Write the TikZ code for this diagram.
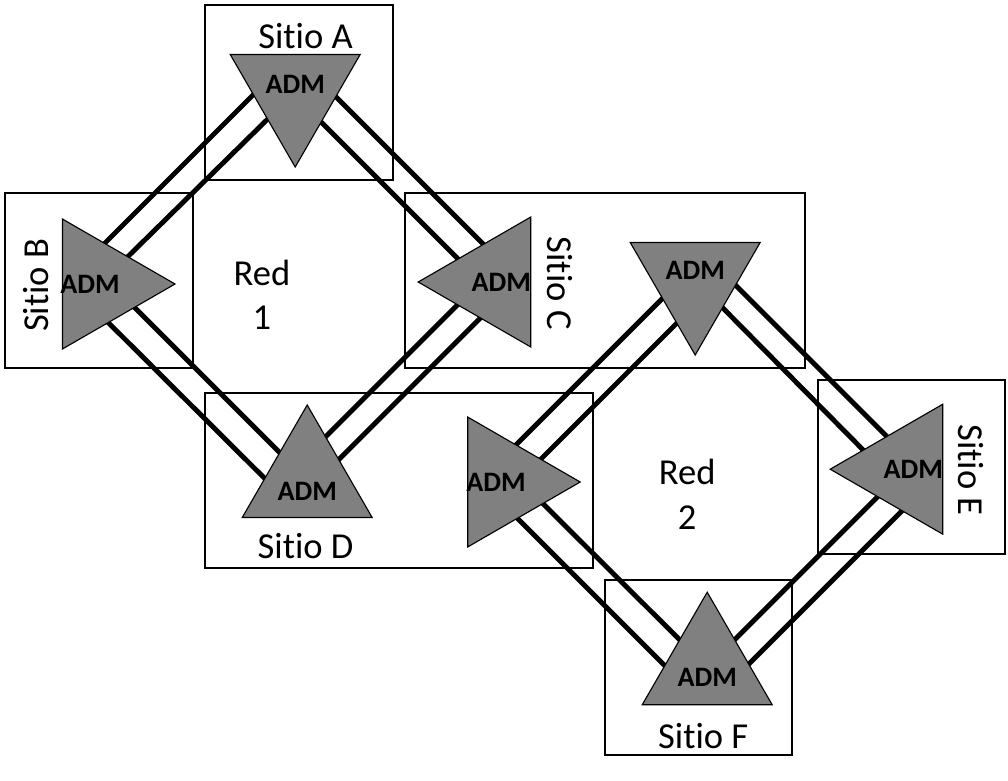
\documentclass[tikz,border=0pt]{standalone}
\usepackage{fontspec}
\setmainfont{Carlito}[Ligatures=NoCommon]
\usepackage{tikz}
\usetikzlibrary{shapes.geometric}
\usetikzlibrary{backgrounds}
\usepackage{color}
\definecolor{admgray}{RGB}{128, 128, 128}

\tikzset{
    admtri/.style={regular polygon, regular polygon sides=3, minimum size=3.75cm,
                   inner sep=0pt, draw=black, line width=0.8pt, fill=admgray},
    admtext/.style={font=\fontsize{20}{24}\selectfont\bfseries, inner sep=0pt},
    sitetext/.style={font=\fontsize{26}{32}\selectfont, inner sep=0pt},
    sitebox/.style={line width=1.2pt},
    admlink/.style={line width=3.5pt},
}

\begin{document}
\begin{tikzpicture}
            % Frame to fix the page size
            \useasboundingbox (0.00, 0.00) rectangle (25.20, -19.50);
            % ADM nodes, Red 1
            \node[admtri, shape border rotate=180] (admA)  at ( 7.38,  -2.30) {};
            \node[admtri, shape border rotate=-90] (admB)  at ( 2.50,  -7.10) {};
            \node[admtri, shape border rotate=90]  (admC1) at (12.33,  -7.05) {};
            \node[admtri]                          (admD1) at ( 7.68, -12.00) {};
            % ADM nodes, Red 2
            \node[admtri, shape border rotate=180] (admC2) at (17.38,  -7.00) {};
            \node[admtri, shape border rotate=-90] (admD2) at (12.63, -12.05) {};
            \node[admtri, shape border rotate=90]  (admE)  at (22.63, -11.73) {};
            \node[admtri]                          (admF)  at (17.68, -16.68) {};
            % ADM labels
            \node[admtext] (txtA)  at ([yshift= 0.20cm]admA.center)  {ADM};
            \node[admtext] (txtB)  at ([xshift=-0.25cm]admB.center)  {ADM};
            \node[admtext] (txtC1) at ([xshift= 0.20cm]admC1.center) {ADM};
            \node[admtext] (txtD1) at ([yshift=-0.28cm]admD1.center) {ADM};
            \node[admtext] (txtC2) at ([yshift= 0.23cm]admC2.center) {ADM};
            \node[admtext] (txtD2) at ([xshift=-0.23cm]admD2.center) {ADM};
            \node[admtext] (txtE)  at ([xshift= 0.20cm]admE.center)  {ADM};
            \node[admtext] (txtF)  at ([yshift=-0.25cm]admF.center)  {ADM};
            % Sites & networks
            \node[sitetext, anchor=base]  (lblA) at ( 7.64,  -1.21) {Sitio A};
            \node[sitetext, rotate=90]    (lblB) at ( 0.90,  -7.13) {Sitio B};
            \node[sitetext, rotate=-90]   (lblC) at (14.00,  -7.08) {Sitio C};
            \node[sitetext, anchor=base]  (lblD) at ( 7.64, -13.96) {Sitio D};
            \node[sitetext, rotate=-90]   (lblE) at (24.28, -11.75) {Sitio E};
            \node[sitetext, anchor=base]  (lblF) at (17.58, -18.71) {Sitio F};
            \node[sitetext, align=center] (red1) at ( 6.55,  -7.37) {Red\\1};
            \node[sitetext, align=center] (red2) at (17.18, -12.36) {Red\\2};
            \begin{scope}[on background layer]
                % Site boxes
                \draw[sitebox] ( 5.13,  -0.13) rectangle ( 9.83,  -4.50);
                \draw[sitebox] ( 0.13,  -4.83) rectangle ( 4.83,  -9.20);
                \draw[sitebox] (10.13,  -4.83) rectangle (20.13,  -9.20);
                \draw[sitebox] ( 5.13,  -9.83) rectangle (14.83, -14.20);
                \draw[sitebox] (20.45,  -9.50) rectangle (25.13, -13.85);
                \draw[sitebox] (15.13, -14.50) rectangle (19.80, -18.88);
                % Red 1 links
                \draw[admlink] ([shift={(-0.49, 0.49)}]admA.center)  -- ([shift={(-0.45, 0.45)}]admB.center);
                \draw[admlink] (admA.center)                         -- (admB.center);
                \draw[admlink] ([shift={( 0.45, 0.45)}]admA.center)  -- ([shift={( 0.35, 0.35)}]admC1.center);
                \draw[admlink] ([shift={(-0.05,-0.05)}]admA.center)  -- ([shift={(-0.15,-0.15)}]admC1.center);
                \draw[admlink] ([shift={( 0.14, 0.14)}]admB.center)  -- (admD1.center);
                \draw[admlink] ([shift={(-0.38,-0.38)}]admB.center)  -- ([shift={(-0.51,-0.51)}]admD1.center);
                \draw[admlink] ([shift={(-0.16, 0.16)}]admC1.center) -- ([shift={(-0.31, 0.31)}]admD1.center);
                \draw[admlink] ([shift={( 0.29,-0.29)}]admC1.center) -- ([shift={( 0.14,-0.14)}]admD1.center);
                % Red 2 links
                \draw[admlink] ([shift={(-0.18, 0.18)}]admC2.center) -- ([shift={(-0.33, 0.33)}]admD2.center);
                \draw[admlink] ([shift={( 0.31,-0.31)}]admC2.center) -- ([shift={( 0.16,-0.16)}]admD2.center);
                \draw[admlink] ([shift={( 0.44, 0.44)}]admC2.center) -- ([shift={( 0.18, 0.18)}]admE.center);
                \draw[admlink] (admC2.center)                        -- ([shift={(-0.29,-0.29)}]admE.center);
                \draw[admlink] ([shift={( 0.20, 0.20)}]admD2.center) -- (admF.center);
                \draw[admlink] ([shift={(-0.30,-0.30)}]admD2.center) -- ([shift={(-0.51,-0.51)}]admF.center);
                \draw[admlink] (admE.center)                         -- (admF.center);
                \draw[admlink] ([shift={( 0.48,-0.48)}]admE.center)  -- ([shift={( 0.48,-0.48)}]admF.center);
            \end{scope}
\end{tikzpicture}
\end{document}
